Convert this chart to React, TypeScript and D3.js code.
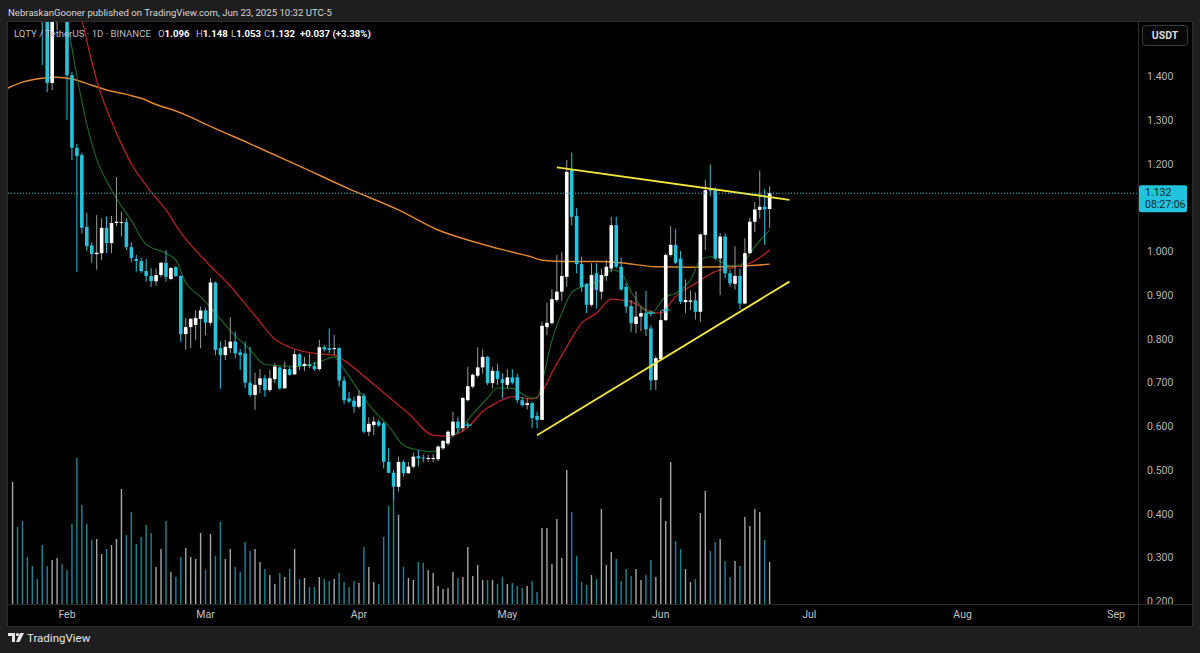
import React from "react";
import * as d3 from "d3";

// ---------- DATA ----------
const START = "2025-01-21";
const opens = [
  1.80, 1.95, 1.90, 1.85, 1.80, 1.76, 1.72, 1.62, 1.384, 1.53, 1.66,
  1.60, 1.402, 1.236, 1.219, 1.055, 1.013, 0.993, 0.995, 1.053, 1.018, 1.064, 1.064, 1.066, 1.009, 0.982, 0.977, 0.954, 0.943, 0.931, 0.945, 0.973, 0.936, 0.963, 0.943, 0.810, 0.826, 0.831, 0.845,
  0.864, 0.836, 0.928, 0.778, 0.762, 0.778, 0.793, 0.768, 0.766, 0.699, 0.671, 0.694, 0.709, 0.682, 0.707, 0.734, 0.686, 0.730, 0.718, 0.764, 0.737, 0.741, 0.737, 0.730, 0.780, 0.778, 0.776, 0.778, 0.704, 0.663, 0.658,
  0.644, 0.669, 0.587, 0.602, 0.610, 0.606, 0.518, 0.493, 0.461, 0.518, 0.492, 0.507, 0.531, 0.528, 0.526, 0.525, 0.524, 0.549, 0.560, 0.579, 0.610, 0.595, 0.659, 0.690, 0.715, 0.734, 0.758, 0.698, 0.726, 0.707,
  0.694, 0.711, 0.711, 0.659, 0.648, 0.652, 0.623, 0.614, 0.826, 0.835, 0.888, 0.907, 0.941, 1.187, 1.080, 0.970, 0.925, 0.877, 0.949, 0.907, 0.943, 0.960, 1.059, 0.964, 0.918, 0.874, 0.833, 0.850, 0.858, 0.823, 0.705,
  0.753, 0.842, 0.991, 1.014, 0.983, 0.883, 0.884, 0.887, 0.861, 1.037, 1.141, 1.139, 0.983, 1.033, 0.949, 0.925, 0.943, 0.880, 0.995, 1.067, 1.094, 1.101, 1.096,
];
const highs = [
  2.00, 1.97, 1.93, 1.88, 1.83, 1.79, 1.74, 1.65, 1.60, 1.72, 1.70,
  1.62, 1.41, 1.245, 1.225, 1.087, 1.02, 1.082, 1.075, 1.079, 1.08, 1.169, 1.09, 1.075, 1.02, 0.991, 0.985, 0.982, 0.961, 0.96, 0.975, 1.002, 0.963, 0.965, 0.945, 0.847, 0.847, 0.865, 0.873,
  0.87, 0.938, 0.93, 0.793, 0.797, 0.849, 0.816, 0.776, 0.793, 0.781, 0.722, 0.730, 0.717, 0.728, 0.743, 0.736, 0.747, 0.736, 0.774, 0.766, 0.758, 0.766, 0.747, 0.797, 0.785, 0.823, 0.808, 0.780, 0.713, 0.678, 0.667,
  0.682, 0.675, 0.620, 0.621, 0.615, 0.610, 0.549, 0.500, 0.530, 0.522, 0.518, 0.539, 0.545, 0.535, 0.534, 0.536, 0.556, 0.568, 0.590, 0.633, 0.621, 0.667, 0.735, 0.720, 0.780, 0.775, 0.760, 0.735, 0.742, 0.720,
  0.730, 0.730, 0.720, 0.667, 0.663, 0.655, 0.633, 0.838, 0.882, 0.912, 0.991, 0.998, 1.208, 1.225, 1.098, 0.987, 0.926, 0.972, 0.972, 0.960, 0.980, 1.078, 1.078, 0.985, 0.926, 0.888, 0.908, 0.873, 0.909, 0.830, 0.760,
  0.865, 0.995, 1.057, 1.050, 1.000, 0.935, 0.910, 0.905, 1.040, 1.162, 1.197, 1.145, 1.041, 1.040, 0.957, 1.011, 0.960, 1.029, 1.076, 1.112, 1.184, 1.141, 1.148,
];
const lows = [
  1.76, 1.86, 1.82, 1.78, 1.74, 1.70, 1.425, 1.363, 1.368, 1.505, 1.56,
  1.30, 1.208, 0.952, 1.04, 1.00, 0.973, 0.957, 0.979, 0.995, 0.995, 1.056, 1.033, 1.002, 0.975, 0.953, 0.95, 0.930, 0.918, 0.92, 0.94, 0.93, 0.933, 0.94, 0.792, 0.774, 0.778, 0.797, 0.778,
  0.808, 0.83, 0.762, 0.685, 0.751, 0.767, 0.755, 0.728, 0.686, 0.667, 0.637, 0.675, 0.667, 0.678, 0.698, 0.683, 0.686, 0.715, 0.717, 0.728, 0.726, 0.732, 0.726, 0.726, 0.770, 0.766, 0.762, 0.690, 0.650, 0.652, 0.630,
  0.640, 0.583, 0.577, 0.579, 0.598, 0.503, 0.492, 0.433, 0.450, 0.484, 0.491, 0.503, 0.508, 0.517, 0.518, 0.517, 0.520, 0.545, 0.555, 0.576, 0.583, 0.587, 0.656, 0.686, 0.711, 0.720, 0.694, 0.686, 0.694, 0.663,
  0.686, 0.695, 0.652, 0.644, 0.638, 0.595, 0.595, 0.614, 0.808, 0.831, 0.884, 0.886, 0.918, 1.059, 0.949, 0.907, 0.858, 0.873, 0.869, 0.889, 0.932, 0.952, 0.960, 0.909, 0.858, 0.815, 0.812, 0.817, 0.806, 0.682, 0.682,
  0.750, 0.840, 0.987, 0.970, 0.879, 0.858, 0.865, 0.843, 0.838, 1.002, 1.125, 0.980, 0.899, 0.938, 0.919, 0.912, 0.867, 0.878, 0.993, 1.043, 1.075, 1.014, 1.053,
];
const closes = [
  1.95, 1.90, 1.85, 1.80, 1.76, 1.72, 1.62, 1.384, 1.53, 1.66, 1.60,
  1.402, 1.236, 1.217, 1.053, 1.011, 0.993, 0.996, 1.053, 1.018, 1.064, 1.067, 1.066, 1.009, 0.984, 0.977, 0.954, 0.943, 0.931, 0.945, 0.973, 0.941, 0.961, 0.943, 0.810, 0.826, 0.845, 0.847, 0.864,
  0.836, 0.928, 0.774, 0.762, 0.781, 0.793, 0.766, 0.762, 0.699, 0.671, 0.694, 0.709, 0.682, 0.709, 0.736, 0.686, 0.730, 0.717, 0.764, 0.737, 0.742, 0.737, 0.730, 0.780, 0.775, 0.774, 0.778, 0.704, 0.659, 0.656, 0.644,
  0.669, 0.587, 0.605, 0.610, 0.601, 0.518, 0.493, 0.461, 0.518, 0.492, 0.507, 0.530, 0.526, 0.526, 0.527, 0.527, 0.553, 0.566, 0.587, 0.610, 0.595, 0.664, 0.691, 0.717, 0.734, 0.758, 0.698, 0.726, 0.707, 0.698,
  0.711, 0.699, 0.659, 0.648, 0.652, 0.618, 0.614, 0.829, 0.836, 0.890, 0.907, 0.943, 1.181, 1.078, 0.970, 0.918, 0.877, 0.945, 0.911, 0.945, 0.964, 1.059, 0.964, 0.912, 0.873, 0.835, 0.850, 0.858, 0.821, 0.704, 0.755,
  0.842, 0.991, 1.014, 0.973, 0.884, 0.888, 0.887, 0.861, 1.038, 1.139, 1.138, 0.983, 1.033, 0.949, 0.926, 0.943, 0.880, 0.995, 1.067, 1.095, 1.101, 1.095, 1.132,
];
const volumes = [
  12.2, 7.7, 8.3, 4.7, 3.8, 2.5, 5.9, 3.8, 4.4, 4.6, 4.0,
  3.4, 8.0, 14.6, 9.9, 8.0, 6.4, 6.5, 5.0, 5.5, 5.9, 6.5, 11.5, 6.9, 9.2, 6.0, 6.7, 7.9, 7.1, 3.7, 5.5, 8.3, 3.2, 2.7, 4.7, 5.6, 4.7, 4.5, 7.1,
  3.4, 7.0, 4.8, 8.2, 4.5, 5.5, 3.7, 3.2, 6.2, 5.3, 5.5, 4.2, 3.5, 2.9, 2.0, 3.1, 2.7, 3.5, 5.5, 2.5, 2.6, 1.7, 1.7, 2.7, 2.5, 2.3, 2.5, 3.1, 2.2, 1.7, 2.3,
  2.1, 5.7, 3.7, 2.2, 2.0, 6.7, 9.8, 11.5, 8.9, 3.7, 2.6, 2.4, 4.2, 4.1, 3.4, 3.1, 1.8, 1.5, 1.6, 3.2, 2.6, 2.7, 5.7, 2.8, 3.9, 2.4, 2.4, 2.4, 2.0, 2.7,
  2.0, 2.1, 1.8, 1.6, 1.8, 2.3, 1.2, 7.6, 7.6, 4.0, 8.5, 4.6, 13.4, 9.2, 4.8, 2.2, 1.9, 2.9, 2.5, 9.5, 3.9, 5.2, 4.5, 2.3, 3.5, 2.8, 3.5, 2.4, 2.9, 4.4, 2.7,
  10.6, 8.3, 14.2, 6.3, 5.5, 3.5, 2.2, 2.5, 9.1, 11.3, 5.3, 6.2, 6.5, 4.3, 2.7, 4.3, 3.8, 8.7, 7.8, 9.5, 9.2, 6.4, 4.2,
];

// moving averages
const maFast: [string, number][] = [
  ["2025-01-30", 1.65], ["2025-02-01", 1.53], ["2025-02-03", 1.40], ["2025-02-05", 1.29], ["2025-02-07", 1.21],
  ["2025-02-09", 1.16], ["2025-02-11", 1.12], ["2025-02-14", 1.07], ["2025-02-17", 1.015], ["2025-02-21", 0.995],
  ["2025-02-23", 0.979], ["2025-02-25", 0.928], ["2025-02-28", 0.895], ["2025-03-03", 0.858], ["2025-03-06", 0.818],
  ["2025-03-10", 0.774], ["2025-03-13", 0.741], ["2025-03-17", 0.737], ["2025-03-20", 0.736], ["2025-03-23", 0.743],
  ["2025-03-25", 0.751], ["2025-03-27", 0.758], ["2025-03-29", 0.730], ["2025-04-01", 0.680], ["2025-04-04", 0.635],
  ["2025-04-07", 0.600], ["2025-04-10", 0.556], ["2025-04-13", 0.545], ["2025-04-16", 0.541], ["2025-04-18", 0.558],
  ["2025-04-21", 0.587], ["2025-04-24", 0.627], ["2025-04-27", 0.664], ["2025-04-29", 0.687], ["2025-05-02", 0.686],
  ["2025-05-05", 0.667], ["2025-05-07", 0.663], ["2025-05-08", 0.700], ["2025-05-10", 0.795], ["2025-05-12", 0.858],
  ["2025-05-14", 0.905], ["2025-05-17", 0.922], ["2025-05-20", 0.934], ["2025-05-22", 0.957], ["2025-05-24", 0.950],
  ["2025-05-26", 0.907], ["2025-05-30", 0.858], ["2025-06-02", 0.896], ["2025-06-04", 0.903], ["2025-06-07", 0.934],
  ["2025-06-09", 0.979], ["2025-06-11", 0.987], ["2025-06-15", 0.966], ["2025-06-17", 0.968], ["2025-06-20", 1.010],
  ["2025-06-23", 1.048],
];
const maMid: [string, number][] = [
  ["2025-02-03", 1.58], ["2025-02-04", 1.53], ["2025-02-07", 1.39], ["2025-02-11", 1.27], ["2025-02-14", 1.20],
  ["2025-02-18", 1.135], ["2025-02-21", 1.094], ["2025-02-24", 1.042], ["2025-03-01", 0.977], ["2025-03-06", 0.920],
  ["2025-03-11", 0.852], ["2025-03-15", 0.799], ["2025-03-19", 0.776], ["2025-03-23", 0.766], ["2025-03-27", 0.762],
  ["2025-03-29", 0.750], ["2025-04-02", 0.714], ["2025-04-06", 0.676], ["2025-04-11", 0.629], ["2025-04-16", 0.579],
  ["2025-04-19", 0.577], ["2025-04-23", 0.597], ["2025-04-26", 0.633], ["2025-04-29", 0.654], ["2025-05-02", 0.667],
  ["2025-05-06", 0.662], ["2025-05-08", 0.678], ["2025-05-10", 0.722], ["2025-05-13", 0.781], ["2025-05-16", 0.835],
  ["2025-05-19", 0.858], ["2025-05-22", 0.890], ["2025-05-26", 0.884], ["2025-05-30", 0.861], ["2025-06-01", 0.858],
  ["2025-06-04", 0.896], ["2025-06-08", 0.926], ["2025-06-12", 0.953], ["2025-06-16", 0.963], ["2025-06-19", 0.972],
  ["2025-06-23", 1.002],
];
const maSlow: [string, number][] = [
  ["2025-01-20", 1.372], ["2025-01-23", 1.386], ["2025-01-27", 1.395], ["2025-01-30", 1.397], ["2025-02-02", 1.393],
  ["2025-02-06", 1.379], ["2025-02-09", 1.368], ["2025-02-13", 1.358], ["2025-02-16", 1.349], ["2025-02-19", 1.335],
  ["2025-02-23", 1.320], ["2025-02-26", 1.306], ["2025-03-01", 1.290], ["2025-03-10", 1.245], ["2025-03-20", 1.194],
  ["2025-03-30", 1.142], ["2025-04-09", 1.094], ["2025-04-17", 1.048], ["2025-04-23", 1.025], ["2025-04-29", 1.006],
  ["2025-05-06", 0.986], ["2025-05-08", 0.979], ["2025-05-13", 0.976], ["2025-05-20", 0.976], ["2025-05-24", 0.973],
  ["2025-05-31", 0.964], ["2025-06-07", 0.963], ["2025-06-14", 0.964], ["2025-06-21", 0.968], ["2025-06-23", 0.970],
];

const trendUpper: [string, number][] = [["2025-05-11", 1.191], ["2025-06-27", 1.117]];
const trendLower: [string, number][] = [["2025-05-07", 0.579], ["2025-06-27", 0.930]];
const crossMarks: [string, number][] = [["2025-04-23", 0.602], ["2025-05-30", 0.858], ["2025-06-02", 0.865]];

const priceTicks = [1.4, 1.3, 1.2, 1.1, 1.0, 0.9, 0.8, 0.7, 0.6, 0.5, 0.4, 0.3, 0.2];
const monthTicks = ["2025-02-01", "2025-03-01", "2025-04-01", "2025-05-01", "2025-06-01", "2025-07-01", "2025-08-01", "2025-09-01"];
const monthLabels = ["Feb", "Mar", "Apr", "May", "Jun", "Jul", "Aug", "Sep"];

const LAST_PRICE = 1.132;
const COUNTDOWN = "08:27:06";
const HEADER = "NebraskanGooner published on TradingView.com, Jun 23, 2025 10:32 UTC-5";
const SYMBOL = "LQTY / TetherUS \u00b7 1D \u00b7 BINANCE";
const OHLC = [["O", "1.096"], ["H", "1.148"], ["L", "1.053"], ["C", "1.132"]];
const CHANGE = "+0.037 (+3.38%)";

// ---------- STYLE ----------
const W = 1200, H = 653;
const PANE = { l: 8, t: 22, r: 1138, b: 604 };
const UP = "#ffffff", DOWN = "#26c3dc";
const VOL_UP = "#a6a6a6", VOL_DOWN = "#1f8596";
const FONT = "Roboto, 'Liberation Sans', Arial, sans-serif";
const OHLC_X = [158, 196, 231, 264];

const parse = (s: string) => new Date(s + "T00:00:00Z");

export default function App() {
  const x = d3.scaleUtc().domain([parse("2025-02-01"), parse("2025-09-01")]).range([67, 1116]);
  const y = d3.scaleLinear().domain([0.2, 1.0]).range([601, 251]);
  const yv = d3.scaleLinear().domain([0, 10]).range([PANE.b, PANE.b - 100]);
  const start = parse(START);
  const candles = opens.map((o, i) => ({
    date: d3.utcDay.offset(start, i),
    o, h: highs[i], l: lows[i], c: closes[i], v: volumes[i],
  }));
  const line = d3.line<[string, number]>().x((d) => x(parse(d[0]))).y((d) => y(d[1])).curve(d3.curveMonotoneX);
  const straight = d3.line<[string, number]>().x((d) => x(parse(d[0]))).y((d) => y(d[1]));
  const bw = 3.6;
  const yLast = y(LAST_PRICE);

  return (
    <svg width={W} height={H} style={{ position: "absolute", left: 0, top: 0, display: "block" }} fontFamily={FONT}>
      <defs>
        <clipPath id="plot">
          <rect x={PANE.l} y={PANE.t} width={PANE.r - PANE.l} height={PANE.b - PANE.t} />
        </clipPath>
        <clipPath id="axis">
          <rect x={PANE.r} y={PANE.t} width={1192 - PANE.r} height={PANE.b - PANE.t} />
        </clipPath>
      </defs>
      <rect width={W} height={H} fill="#1e1e1e" />
      <text x={8} y={16} fontSize={9.6} fill="#d6d6d6">{HEADER}</text>
      <rect x={7.5} y={21.5} width={1185} height={605} fill="#000" stroke="#2b2b2b" />
      <line x1={PANE.r + 0.5} x2={PANE.r + 0.5} y1={22} y2={626} stroke="#2b2b2b" />
      <line x1={8} x2={1192} y1={PANE.b + 0.5} y2={PANE.b + 0.5} stroke="#2b2b2b" />

      <g clipPath="url(#plot)">
        {/* volume */}
        {candles.map((d, i) => (
          <rect key={"v" + i} x={x(d.date) - 0.7} width={1.4} y={yv(d.v)} height={PANE.b - yv(d.v)}
            fill={d.c >= d.o ? VOL_UP : VOL_DOWN} />
        ))}
        {/* moving averages */}
        <path d={line(maSlow) || ""} fill="none" stroke="#e0862b" strokeWidth={1.5} />
        <path d={line(maMid) || ""} fill="none" stroke="#b3221f" strokeWidth={1.3} />
        <path d={line(maFast) || ""} fill="none" stroke="#1d6a25" strokeWidth={1.1} />
        {/* candles */}
        {candles.map((d, i) => {
          const up = d.c >= d.o;
          const cx = x(d.date);
          const top = y(Math.max(d.o, d.c));
          const bot = y(Math.min(d.o, d.c));
          return (
            <g key={"c" + i}>
              <line x1={cx} x2={cx} y1={y(d.h)} y2={y(d.l)} stroke={up ? "#9a9a9a" : DOWN} strokeWidth={1} />
              <rect x={cx - bw / 2} width={bw} y={top} height={Math.max(1, bot - top)} fill={up ? UP : DOWN} />
            </g>
          );
        })}
        {crossMarks.map((m, i) => (
          <g key={"m" + i} stroke={DOWN} strokeOpacity={0.75} strokeWidth={1.6}>
            <line x1={x(parse(m[0])) - 4} x2={x(parse(m[0])) + 4} y1={y(m[1])} y2={y(m[1])} />
            <line x1={x(parse(m[0]))} x2={x(parse(m[0]))} y1={y(m[1]) - 3} y2={y(m[1]) + 3} />
          </g>
        ))}
        {/* trend lines */}
        <path d={straight(trendUpper) || ""} stroke="#f3e63c" strokeWidth={1.8} fill="none" />
        <path d={straight(trendLower) || ""} stroke="#f3e63c" strokeWidth={1.8} fill="none" />
        {/* last price line */}
        <line x1={PANE.l} x2={PANE.r} y1={yLast} y2={yLast} stroke={DOWN} strokeDasharray="1 2" strokeWidth={1} />
      </g>

      {/* legend */}
      <g fontSize={9.6}>
        <text x={14} y={37} fill="#b8bcc4">{SYMBOL}</text>
        {OHLC.map((p, i) => (
          <text key={p[0]} x={OHLC_X[i]} y={37} fill="#b8bcc4">
            {p[0]}<tspan fill="#ffffff" fontWeight="bold">{p[1]}</tspan>
          </text>
        ))}
        <text x={300} y={37} fill="#ffffff" fontWeight="bold">{CHANGE}</text>
      </g>

      {/* price axis */}
      <g clipPath="url(#axis)" fontSize={10.5} fill="#b4b4b4">
        {priceTicks.filter((t) => Math.abs(y(t) - yLast) > 16).map((t) => (
          <text key={t} x={1147} y={y(t) + 4}>{t.toFixed(3)}</text>
        ))}
      </g>
      <rect x={1139} y={yLast - 8} width={48} height={27} rx={2} fill="#22c3dd" />
      <text x={1145} y={yLast + 3} fontSize={10.5} fill="#0b2a31">{LAST_PRICE.toFixed(3)}</text>
      <text x={1145} y={yLast + 15} fontSize={10.5} fill="#0b2a31">{COUNTDOWN}</text>
      <rect x={1142.5} y={25.5} width={45} height={20} rx={3} fill="#080808" stroke="#3a3a3a" />
      <text x={1165} y={39} fontSize={10.5} fontWeight="bold" textAnchor="middle" fill="#d8d8d8">USDT</text>

      {/* time axis */}
      <g fontSize={10.5} fill="#c2c2c2" textAnchor="middle">
        {monthTicks.map((m, i) => (
          <text key={m} x={x(parse(m))} y={618}>{monthLabels[i]}</text>
        ))}
      </g>

      {/* footer */}
      <g fill="#e6e6e6">
        <path d="M8 633 h7 v9 h-3 v-6 h-4 z" />
        <circle cx={17.5} cy={634.6} r={1.6} />
        <path d="M20 633 h4 l-4.5 9 h-3.5 z" />
      </g>
      <text x={27} y={642} fontSize={11.5} fill="#e6e6e6">TradingView</text>
    </svg>
  );
}
